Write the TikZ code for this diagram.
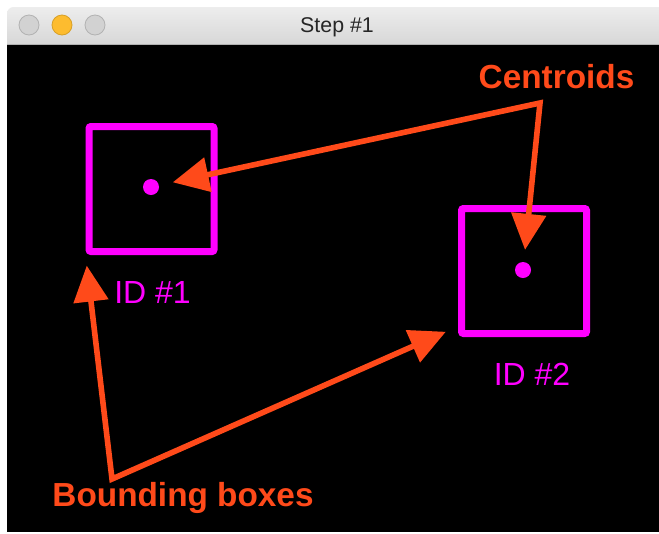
\documentclass[tikz,border=0pt]{standalone}
\usepackage{fontspec}
\setmainfont{Liberation Sans}
\usepackage{xcolor}
\usetikzlibrary{arrows.meta}
\definecolor{titletop}{HTML}{EDEDED}
\definecolor{titlebot}{HTML}{D4D4D4}
\definecolor{btngray}{HTML}{D2D2D2}
\definecolor{btnyellow}{HTML}{FDBC2F}
\definecolor{boxpink}{HTML}{FF00FF}
\definecolor{arrowred}{HTML}{FF4A1A}

\begin{document}
\begin{tikzpicture}[x=0.75pt, y=-0.75pt,
	btn/.style={circle, minimum size=15pt, inner sep=0pt, draw=#1!85!black, fill=#1, line width=0.6pt},
	bbox/.style={draw=boxpink, line width=5.25pt, rounded corners=1.5pt, minimum size=93.75pt, inner sep=0pt},
	cdot/.style={circle, fill=boxpink, minimum size=12pt, inner sep=0pt},
	idlabel/.style={text=boxpink, font=\fontsize{24}{28}\selectfont, inner sep=0pt, anchor=base},
	note/.style={text=arrowred, font=\bfseries\fontsize{25}{30}\selectfont, inner sep=0pt, anchor=base},
	pointer/.style={draw=arrowred, line width=4.2pt, {Triangle[length=27pt,width=25.5pt]}-{Triangle[length=27pt,width=25.5pt]}}]
			\useasboundingbox (0,0) rectangle (659,533);
			\fill[white] (0,0) rectangle (659,533);
			% 标题栏
			\shade[top color=titletop, bottom color=titlebot, rounded corners=5pt] (7,50) |- (670,7) |- cycle;
			\fill[black] (7,44) rectangle (659,532);
			\draw[black!30, line width=0.6pt] (7,44) -- (659,44);
			\node[btn=btngray] (close) at (29,25) {};
			\node[btn=btnyellow] (mini) at (62,25) {};
			\node[btn=btngray] (full) at (95,25) {};
			\node[text=black!85, font=\fontsize{16}{19}\selectfont, anchor=base, inner sep=0pt] (title) at (337,32) {Step \#1};
			% 边框与质心
			\node[bbox] (box1) at (151.5,189) {};
			\node[bbox] (box2) at (524,271) {};
			\node[cdot] (dot1) at (151,187) {};
			\node[cdot] (dot2) at (523,270) {};
			\node[idlabel] (id1) at (152.5,303) {ID \#1};
			\node[idlabel] (id2) at (532,385) {ID \#2};
			% 标注
			\node[note] (cent) at (556.5,88) {Centroids};
			\node[note] (bbnote) at (183,506) {Bounding boxes};
			\coordinate (cj) at (540,103);
			\coordinate (bj) at (112,479);
			\draw[pointer, shorten <=10.5pt, shorten >=9pt] (dot1) -- (cj) -- (dot2);
			\draw[pointer, shorten <=8pt, shorten >=10pt] (box1.south west) -- (bj) -- (box2.220);
		\end{tikzpicture}
\end{document}
